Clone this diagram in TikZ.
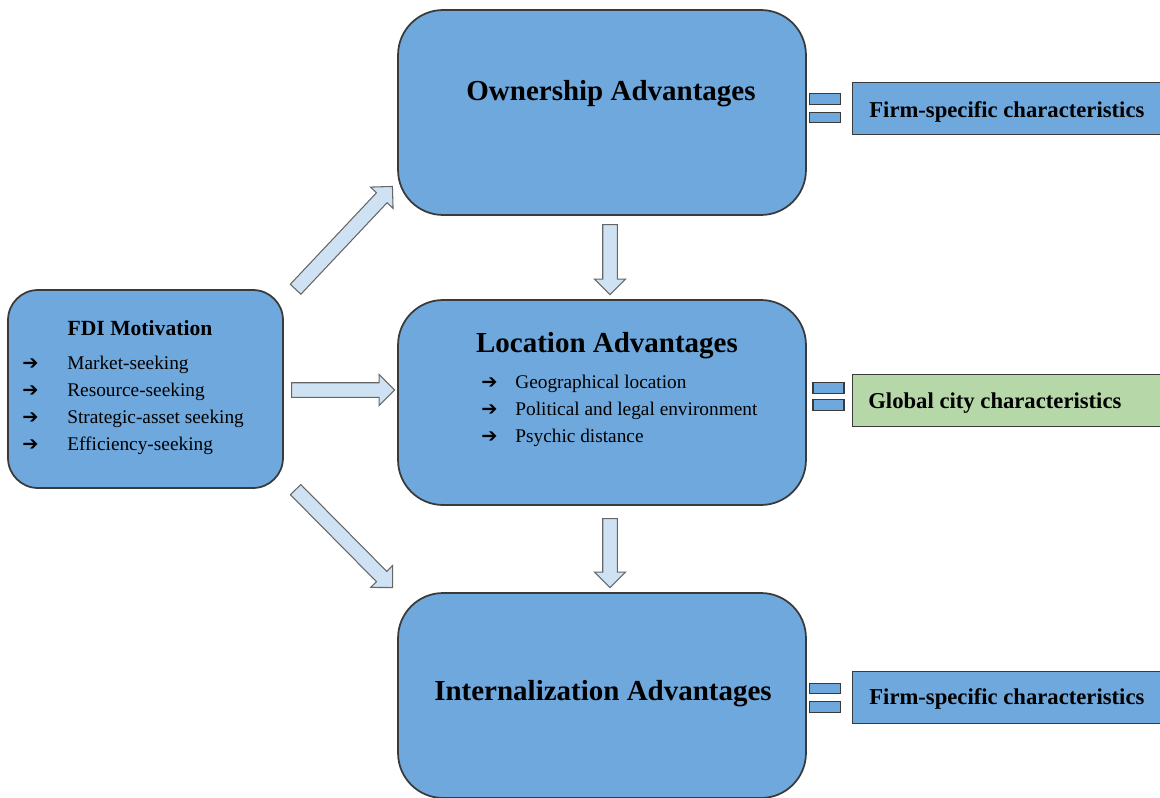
\documentclass[tikz,border=0pt]{standalone}
\usepackage{fontspec}
\setmainfont{Liberation Serif}
\newfontfamily\symfont{DejaVu Sans}
\usetikzlibrary{shapes.arrows, calc}

\definecolor{boxblue}{HTML}{6FA8DC}
\definecolor{boxgreen}{HTML}{B6D7A8}
\definecolor{arrowblue}{HTML}{CFE2F3}
\definecolor{edgegray}{HTML}{3A3A3A}

\tikzset{
  bigbox/.style={draw=edgegray, line width=1pt, fill=boxblue, rounded corners=0.9cm,
    minimum width=8.16cm, minimum height=4.1cm},
  motibox/.style={draw=edgegray, line width=1pt, fill=boxblue, rounded corners=0.6cm,
    minimum width=5.5cm, minimum height=3.96cm},
  sidebox/.style={draw=edgegray, line width=0.8pt, anchor=west, minimum width=6.4cm,
    minimum height=1.03cm},
  sidetext/.style={anchor=base west, inner sep=0pt, font=\fontsize{12.9}{14}\selectfont\bfseries},
  eqbar/.style={draw=edgegray, line width=0.7pt, fill=boxblue, minimum width=0.62cm,
    minimum height=0.21cm, inner sep=0pt},
  title/.style={font=\fontsize{16.5}{19}\selectfont\bfseries},
  listtext/.style={inner sep=0pt, font=\fontsize{11}{15.4}\selectfont},
  fatarr/.style={single arrow, draw=gray!80!black, line width=0.6pt, fill=arrowblue, inner sep=0.135cm,
    minimum width=0.6cm, single arrow head extend=0.165cm, single arrow head indent=0cm}
}

\newcommand{\fatarrow}[2]{%
  \path let \p1=($(#2)-(#1)$), \n1={atan2(\y1,\x1)}, \n2={veclen(\x1,\y1)} in
    ($(#1)!0.5!(#2)$) node[fatarr, rotate=\n1, minimum height=\n2] {};}
\newcommand{\tip}{{\symfont\bfseries ➔}}

\begin{document}
\begin{tikzpicture}[x=0.02cm, y=-0.02cm]
    \useasboundingbox (0,0) rectangle (1160,798);

    % Boites principales
    \node[bigbox] (own) at (602,112.5) {};
    \node[bigbox] (loc) at (602,402.5) {};
    \node[bigbox] (int) at (602,695.5) {};
    \node[motibox] (fdi) at (145.5,389) {};

    % Titres
    \node[title] (ownt) at (611,94) {Ownership Advantages};
    \node[title] (loct) at (607,346) {Location Advantages};
    \node[title] (intt) at (603,694) {Internalization Advantages};
    \node[font=\fontsize{12.3}{14}\selectfont\bfseries] (fdit) at (140,328) {FDI Motivation};

    % Listes
    \node[listtext, anchor=base west] (fdilist) at (22,369) {%
      \begin{tabular}[t]{@{}p{0.9cm}@{}l@{}}
        \tip & Market-seeking\\
        \tip & Resource-seeking\\
        \tip & Strategic-asset seeking\\
        \tip & Efficiency-seeking
      \end{tabular}};
    \node[listtext, anchor=base west] (loclist) at (481,388) {%
      \begin{tabular}[t]{@{}p{0.68cm}@{}l@{}}
        \tip & Geographical location\\
        \tip & Political and legal environment\\
        \tip & Psychic distance
      \end{tabular}};

    % Caracteristiques
    \node[sidebox, fill=boxblue] (firm1) at (852,108.5) {};
    \node[sidebox, fill=boxgreen] (city) at (852,400.5) {};
    \node[sidebox, fill=boxblue] (firm2) at (852,697.5) {};
    \node[sidetext] (firm1t) at (869,117) {Firm-specific characteristics};
    \node[sidetext] (cityt) at (868,408) {Global city characteristics};
    \node[sidetext] (firm2t) at (869,704) {Firm-specific characteristics};

    % Signes egal
    \node[eqbar] (eq1a) at (825,99) {};
    \node[eqbar] (eq1b) at (825,117.5) {};
    \node[eqbar] (eq2a) at (828.5,388) {};
    \node[eqbar] (eq2b) at (828.5,405) {};
    \node[eqbar] (eq3a) at (825,688.5) {};
    \node[eqbar] (eq3b) at (825,707) {};

    % Fleches
    \coordinate (upS) at (293,292);
    \coordinate (upE) at (390,189);
    \coordinate (midS) at (288,390);
    \coordinate (midE) at (391,390);
    \coordinate (dnS) at (293,487);
    \coordinate (dnE) at (390,585);
    \coordinate (d1S) at (610,221);
    \coordinate (d1E) at (610,291);
    \coordinate (d2S) at (610,515);
    \coordinate (d2E) at (610,584);

    \fatarrow{upS}{upE}
    \fatarrow{midS}{midE}
    \fatarrow{dnS}{dnE}
    \fatarrow{d1S}{d1E}
    \fatarrow{d2S}{d2E}
\end{tikzpicture}
\end{document}
